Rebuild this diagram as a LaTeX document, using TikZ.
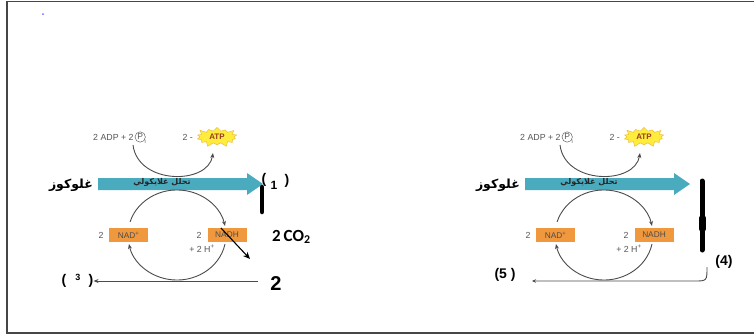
\documentclass[tikz,border=0pt]{standalone}
\usepackage{fontspec}
\setmainfont{Liberation Sans}
\newfontfamily\arabicfont[Script=Arabic]{DejaVu Sans}
\newfontfamily\calfont{Carlito}
\TeXXeTstate=1
\usetikzlibrary{shapes.symbols,arrows.meta}

\definecolor{framegray}{RGB}{70,70,70}
\definecolor{linegray}{RGB}{75,75,75}
\definecolor{smalltext}{RGB}{85,85,85}
\definecolor{tealarrow}{RGB}{74,170,190}
\definecolor{nadorange}{RGB}{240,152,62}
\definecolor{atpyellow}{RGB}{255,236,60}
\definecolor{atpedge}{RGB}{235,190,60}
\definecolor{atptext}{RGB}{150,60,30}

\tikzset{
  small/.style={font=\fontsize{8.8}{9}\selectfont, text=smalltext, inner sep=0pt},
  nadbox/.style={fill=nadorange, minimum width=39pt, minimum height=14pt, inner sep=0pt,
                 font=\fontsize{8.3}{9}\selectfont, text=black!70},
  cycle/.style={linegray, line width=0.9pt},
  tip/.style={-{Stealth[length=5pt,width=4pt]}},
  label/.style={font=\bfseries\fontsize{14}{16}\selectfont, inner sep=0pt},
  bar/.style={line width=4.5pt, line cap=round}
}

% one glycolysis panel; #1 = horizontal offset
\newcommand{\glypanel}[2]{%
  \begin{scope}[xshift=#1pt]
    % ADP + Pi -> ATP
    \node[small, anchor=west] (#2adp) at (93,137) {2 ADP + 2};
    \node[small, circle, draw=smalltext, line width=0.45pt, inner sep=0.8pt, anchor=west,
          font=\fontsize{8.5}{9}\selectfont] (#2pc) at ([xshift=1pt]#2adp.east) {P};
    \node[small, anchor=west, font=\fontsize{5.5}{6}\selectfont] (#2pi) at ([xshift=0.5pt,yshift=-1pt]#2pc.south east) {i};
    \node[small, anchor=east] (#2two) at (193,137) {2 -};
    \node[starburst, starburst points=14, starburst point height=5pt, fill=atpyellow,
          draw=atpedge, line width=0.5pt, minimum width=44pt, minimum height=22pt,
          inner sep=0pt, font=\bfseries\fontsize{8}{9}\selectfont, text=atptext] (#2atp) at (217,137) {ATP};
    \coordinate (#2a0) at (133,145);
    \coordinate (#2a1) at (213,153);
    \draw[cycle, tip] (#2a0) .. controls (138,185) and (208,185) .. (#2a1);
    % glycolysis arrow
    \path[fill=tealarrow] (98,178) -- (247,178) -- (247,173) -- (263,184) -- (247,195) -- (247,190) -- (98,190) -- cycle;
    \node[inner sep=0pt, font=\arabicfont\bfseries\fontsize{8}{9}\selectfont, text=black!85] (#2gly) at (162,182) {\beginR تحلل غلايكولي\endR};
    \node[inner sep=0pt, font=\arabicfont\bfseries\fontsize{12.5}{13}\selectfont, anchor=east] (#2glu) at (93,185) {\beginR غلوكوز\endR};
    % NAD cycle
    \node[nadbox] (#2nad) at (128.5,235) {NAD\textsuperscript{+}};
    \node[nadbox] (#2nadh) at (227,235) {NADH};
    \node[small] (#2n1) at (101,235) {2};
    \node[small] (#2n2) at (199,235) {2};
    \node[small] (#2hp) at (202,249) {+ 2 H\textsuperscript{+}};
    \coordinate (#2c0) at (130.1,221.8);
    \coordinate (#2c1) at (225.0,244.0);
    \draw[cycle, tip] (#2c0) arc[start angle=197, end angle=348.5, x radius=49, y radius=45];
    \draw[cycle, tip] (#2c1) arc[start angle=11.5, end angle=168.5, x radius=49, y radius=45];
  \end{scope}}

\begin{document}
\begin{tikzpicture}[x=1pt,y=-1pt]
  \useasboundingbox (0,0) rectangle (754,335);
  % page frame
  \draw[framegray, line width=1.4pt] (754,1.5) -- (7,1.5) -- (7,333) -- (754,333);
  \fill[blue!60] (43,14) circle (1pt);

  \glypanel{0}{L}
  \glypanel{427}{R}

  % left panel: CO2 output and labels
  \coordinate (co2end) at (250,259);
  \draw[black, line width=1.1pt, -{Stealth[length=7pt,width=6pt]}] (221,228) -- (co2end);
  \node[inner sep=0pt, font=\calfont\bfseries\fontsize{17}{18}\selectfont, anchor=west] (co2) at (272,237) {2\,CO\textsubscript{2}};
  \node[inner sep=0pt, font=\bfseries\fontsize{20}{22}\selectfont] (two) at (276,284) {2};
  \node[label] (p3o) at (64,281) {(};
  \node[label, font=\bfseries\fontsize{9}{10}\selectfont] (p3n) at (78,277) {3};
  \node[label] (p3c) at (91,281) {)};
  \draw[linegray, line width=0.9pt, -{Stealth[length=5pt,width=4pt]}] (258,281) -- (p3c.east);
  \draw[bar] (262,187) -- (262,212);
  \node[label] (p1o) at (264,180) {(};
  \node[label, font=\bfseries\fontsize{12}{13}\selectfont] (p1n) at (274,185) {1};
  \node[label] (p1c) at (287,181) {)};

  % right panel: bar and return line
  \draw[bar, line width=5pt] (702,181) -- (702,250);
  \draw[line width=6.5pt, line cap=round] (702.5,218) -- (702.5,229);
  \node[label] (p4) at (724,262) {(4)};
  \node[label] (p5) at (505,275) {(5 )};
  \coordinate (r0) at (707,267);
  \coordinate (r1) at (532,281);
  \draw[linegray, line width=0.9pt, -{Stealth[length=4pt,width=3.5pt]}] (r0) .. controls (707,281) .. (694,281) -- (r1);
\end{tikzpicture}
\end{document}
